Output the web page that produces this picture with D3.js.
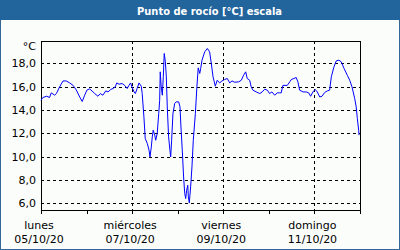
<!DOCTYPE html>
<html>
<head>
<meta charset="utf-8">
<script src="https://cdn.jsdelivr.net/npm/d3@7"></script>
<style>
  body { margin: 0; padding: 0; background: #fff; }
  svg { display: block; font-family: "DejaVu Sans", Verdana, sans-serif; }
</style>
</head>
<body>
<div id="chart"></div>
<script>
// hours since 05/10/20 00:00
var hours = [0, 1, 3, 4.5, 5.4, 7.2, 8.1, 9.8, 11.6, 13.3, 15.1, 16.9, 18.6, 20.4, 21.7, 23, 24.2, 25.6,
  27.4, 28.3, 30, 31.2, 32.6, 34.1, 35.3, 36.7, 37.9, 39.1, 39.9, 41.1, 42.7, 44.1, 45.4, 46.3, 47.2,
  47.9, 49, 49.7, 50.6, 51.6, 52.8, 53.3, 54.2, 54.9, 56, 56.9, 57.4, 58.1, 58.6, 59.1, 59.9, 60.4,
  61.2, 62, 62.5, 62.8, 63.3, 63.9, 64.4, 64.9, 65.5, 66, 66.5, 67.2, 67.9, 68.3, 68.8, 69.5, 70.4,
  71.2, 72.5, 73.2, 73.7, 74.4, 75.1, 75.7, 76.2, 76.7, 77.3, 77.6, 78.1, 78.8, 79.5, 80.2, 81.3,
  82.1, 82.8, 83.6, 84.1, 84.8, 86.2, 87.6, 88.8, 89.7, 90.6, 91.8, 92.8, 94.1, 95.3, 96.7, 98.1,
  99.4, 100.6, 102, 104.1, 105.5, 106.7, 107.8, 108.6, 109.9, 110.7, 111.6, 113.4, 115.2, 116.5,
  117.8, 119.2, 120.4, 121.6, 123.1, 124.4, 125.7, 126.5, 127.4, 129.7, 131, 131.8, 133.2, 134.4,
  135.3, 136.2, 138, 139.7, 141, 142, 143.2, 144.4, 145.5, 146.8, 148, 149.4, 150.8, 152, 152.9,
  154.3, 155.5, 156.9, 158.1, 159.6, 161.3, 162.6, 163.8, 165.2, 166, 166.6, 167.3, 167.5];

var dewPoint = [14.83, 15.06, 15.17, 15.06, 15.46, 15.26, 15.4, 15.97, 16.48, 16.48, 16.31, 16.1, 15.7,
  15.1, 14.72, 15.26, 15.7, 15.8, 15.54, 15.4, 15.17, 15.4, 15.26, 15.63, 15.54, 15.75, 15.83, 15.97,
  16.31, 16.2, 16.26, 16.09, 15.83, 16.1, 16.31, 15.97, 15.54, 15.4, 15.83, 16.31, 16.03, 15.4, 13.4,
  11.55, 11.12, 10.55, 9.98, 10.83, 11.69, 12.26, 11.84, 11.4, 11.98, 13.69, 14.83, 17.26, 15.97,
  15.26, 16.83, 18.83, 18.12, 16.83, 14.26, 11.69, 10.55, 9.98, 11.4, 13.69, 14.55, 14.69, 14.69,
  14.26, 12.55, 10.55, 8.26, 6.84, 6.41, 7.12, 7.55, 6.55, 6.04, 7.41, 9.12, 11.4, 13.69, 15.97,
  17.6, 17.12, 17.55, 18.26, 18.97, 19.26, 18.97, 17.97, 16.83, 16.03, 16.54, 16.31, 16.48, 16.6,
  16.69, 16.31, 16.48, 16.37, 16.4, 16.54, 16.97, 17.26, 16.69, 16.54, 15.97, 15.69, 15.54, 15.4,
  15.54, 15.77, 15.69, 15.4, 15.54, 15.26, 15.46, 15.46, 15.46, 16.1, 16.1, 16.4, 16.6, 16.69,
  16.77, 16.4, 15.69, 15.54, 15.54, 15.46, 15.17, 15.54, 15.75, 15.54, 15.11, 15.17, 15.49, 15.63,
  15.69, 16.83, 17.69, 18.2, 18.26, 18.12, 17.55, 16.97, 16.54, 15.97, 14.98, 14.26, 13.26, 12.26,
  11.84];

var yTicks = [6, 8, 10, 12, 14, 16, 18];
var dayNames = ["lunes", "miércoles", "viernes", "domingo"];
var dayDates = ["05/10/20", "07/10/20", "09/10/20", "11/10/20"];
var dayHours = [0, 48, 96, 144];
var minorHours = [0, 24, 48, 72, 96, 120, 144, 168];

var W = 400, H = 250;
var pL = 41, pR = 360, pT = 41, pB = 210;

var svg = d3.select("#chart").append("svg")
  .attr("width", W)
  .attr("height", H);

// frame
svg.append("rect")
  .attr("x", 0.5).attr("y", 0.5)
  .attr("width", W - 1).attr("height", H - 1)
  .attr("fill", "#fbfdfb")
  .attr("stroke", "#336699")
  .attr("stroke-width", 1);
svg.append("rect")
  .attr("x", 0).attr("y", 0)
  .attr("width", W).attr("height", 20)
  .attr("fill", "#22649c");
svg.append("text")
  .attr("x", 137).attr("y", 15)
  .attr("fill", "#fff")
  .attr("font-weight", "bold")
  .attr("font-size", "11px")
  .attr("textLength", 145)
  .attr("lengthAdjust", "spacingAndGlyphs")
  .text("Punto de rocío [°C] escala");

var x = d3.scaleLinear().domain([0, 168]).range([pL, pR]);
var y = d3.scaleLinear().domain([5.43, 19.9]).range([pB, pT]);

// horizontal grid
svg.append("g")
  .selectAll("line")
  .data(yTicks)
  .join("line")
  .attr("x1", pL).attr("x2", pR)
  .attr("y1", function (d) { return Math.round(y(d)) + 0.5; })
  .attr("y2", function (d) { return Math.round(y(d)) + 0.5; })
  .attr("stroke", "#000")
  .attr("stroke-dasharray", "3,3");

// vertical grid at labelled days
svg.append("g")
  .selectAll("line")
  .data(dayHours.slice(1))
  .join("line")
  .attr("x1", function (d) { return Math.round(x(d)) + 0.5; })
  .attr("x2", function (d) { return Math.round(x(d)) + 0.5; })
  .attr("y1", pT).attr("y2", pB)
  .attr("stroke", "#000")
  .attr("stroke-dasharray", "3,3");

// y labels
svg.append("g")
  .selectAll("text")
  .data(yTicks)
  .join("text")
  .attr("x", 36)
  .attr("y", function (d) { return y(d) + 4; })
  .attr("text-anchor", "end")
  .attr("font-size", "11px")
  .attr("fill", "#000")
  .text(function (d) { return d3.format(".1f")(d).replace(".", ","); });
svg.append("text")
  .attr("x", 36).attr("y", 50)
  .attr("text-anchor", "end")
  .attr("font-size", "11px")
  .text("°C");

// bottom ticks
svg.append("g")
  .selectAll("line")
  .data(minorHours)
  .join("line")
  .attr("x1", function (d) { return Math.round(x(d)) + 0.5; })
  .attr("x2", function (d) { return Math.round(x(d)) + 0.5; })
  .attr("y1", pB).attr("y2", pB + 4)
  .attr("stroke", "#000");

var lab = svg.append("g").attr("font-size", "11px").attr("text-anchor", "middle");
lab.selectAll("text.name")
  .data(dayHours)
  .join("text")
  .attr("class", "name")
  .attr("x", function (d) { return x(d) - 2; })
  .attr("y", 229)
  .text(function (d, i) { return dayNames[i]; });
lab.selectAll("text.date")
  .data(dayHours)
  .join("text")
  .attr("class", "date")
  .attr("x", function (d) { return x(d) - 2; })
  .attr("y", 243)
  .text(function (d, i) { return dayDates[i]; });

// plot box
svg.append("rect")
  .attr("x", pL + 0.5).attr("y", pT + 0.5)
  .attr("width", pR - pL).attr("height", pB - pT)
  .attr("fill", "none")
  .attr("stroke", "#000");

// series
var line = d3.line()
  .x(function (d, i) { return x(hours[i]); })
  .y(function (d) { return y(d); });

svg.append("path")
  .datum(dewPoint)
  .attr("fill", "none")
  .attr("stroke", "#0000ff")
  .attr("stroke-width", 1)
  .attr("d", line);
</script>
</body>
</html>
